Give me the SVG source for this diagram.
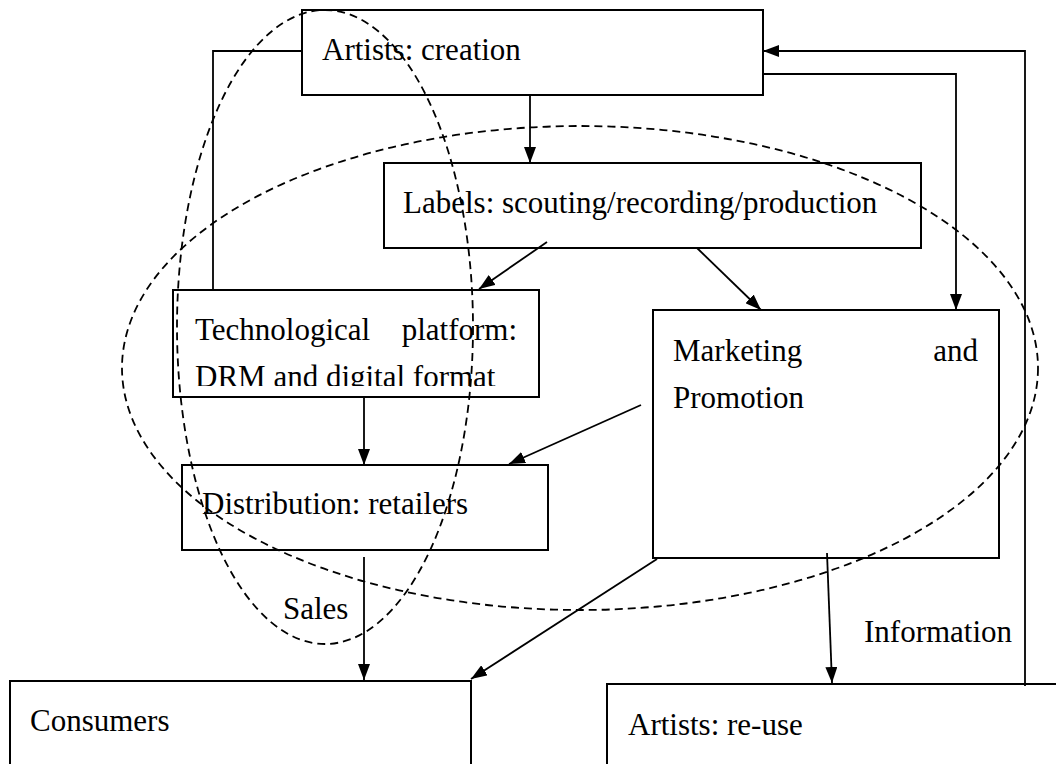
<svg xmlns="http://www.w3.org/2000/svg" width="1056" height="764" viewBox="0 0 1056 764">
<style>
.box{fill:#fff;stroke:#000;stroke-width:2}
.t{font-family:"Liberation Serif","Times New Roman",serif;font-size:31px;fill:#000}
.c{fill:none;stroke:#000;stroke-width:1.8}
.e{fill:none;stroke:#000;stroke-width:1.8;stroke-dasharray:8 5}
</style>
<defs>
<marker id="ah" viewBox="0 0 16 12" refX="16" refY="6" markerWidth="16" markerHeight="12" markerUnits="userSpaceOnUse" orient="auto">
<path d="M0,0 L16,6 L0,12 z" fill="#000"/>
</marker>
<clipPath id="techclip"><rect x="173" y="290" width="366" height="96"/></clipPath>
</defs>
<rect width="1056" height="764" fill="#fff"/>
<g id="n-artists-creation"><rect class="box" x="302" y="10" width="461" height="85"/><text class="t" x="322" y="60">Artists: creation</text></g>
<g id="n-labels"><rect class="box" x="384" y="163" width="537" height="85"/><text class="t" x="403" y="213">Labels: scouting/recording/production</text></g>
<g id="n-tech"><rect class="box" x="173" y="290" width="366" height="107"/><g clip-path="url(#techclip)"><text class="t" x="195" y="340">Technological</text><text class="t" x="517" y="340" text-anchor="end">platform:</text><text class="t" x="195" y="387">DRM and digital format</text></g></g>
<g id="n-marketing"><rect class="box" x="653" y="310" width="346" height="248"/><text class="t" x="673" y="361">Marketing</text><text class="t" x="978" y="361" text-anchor="end">and</text><text class="t" x="673" y="408">Promotion</text></g>
<g id="n-distribution"><rect class="box" x="182" y="465" width="366" height="85"/><text class="t" x="202" y="514">Distribution: retailers</text></g>
<g id="n-consumers"><rect class="box" x="10" y="681" width="461" height="100"/><text class="t" x="30" y="731">Consumers</text></g>
<g id="n-artists-reuse"><rect class="box" x="607" y="684" width="470" height="100"/><text class="t" x="628" y="735">Artists: re-use</text></g>
<g id="connectors">
<polyline class="c" points="302,51 213,51 213,290"/>
<polyline class="c" points="1025,686 1025,51 763,51" marker-end="url(#ah)"/>
<polyline class="c" points="763,74 956,74 956,310" marker-end="url(#ah)"/>
<line class="c" x1="530" y1="95" x2="530" y2="163" marker-end="url(#ah)"/>
<line class="c" x1="547" y1="242" x2="479" y2="289" marker-end="url(#ah)"/>
<line class="c" x1="697" y1="248" x2="761" y2="310" marker-end="url(#ah)"/>
<line class="c" x1="364" y1="397" x2="364" y2="465" marker-end="url(#ah)"/>
<line class="c" x1="641" y1="405" x2="509" y2="464" marker-end="url(#ah)"/>
<line class="c" x1="364" y1="557" x2="364" y2="680" marker-end="url(#ah)"/>
<line class="c" x1="657" y1="559" x2="471" y2="679" marker-end="url(#ah)"/>
<line class="c" x1="827" y1="553" x2="832" y2="683" marker-end="url(#ah)"/>
<text class="t" x="283" y="619">Sales</text>
<text class="t" x="864" y="642">Information</text>
</g>
<g id="groupings">
<ellipse class="e" cx="325" cy="327" rx="148" ry="317"/>
<ellipse class="e" cx="580" cy="368" rx="458" ry="242"/>
</g>
</svg>
